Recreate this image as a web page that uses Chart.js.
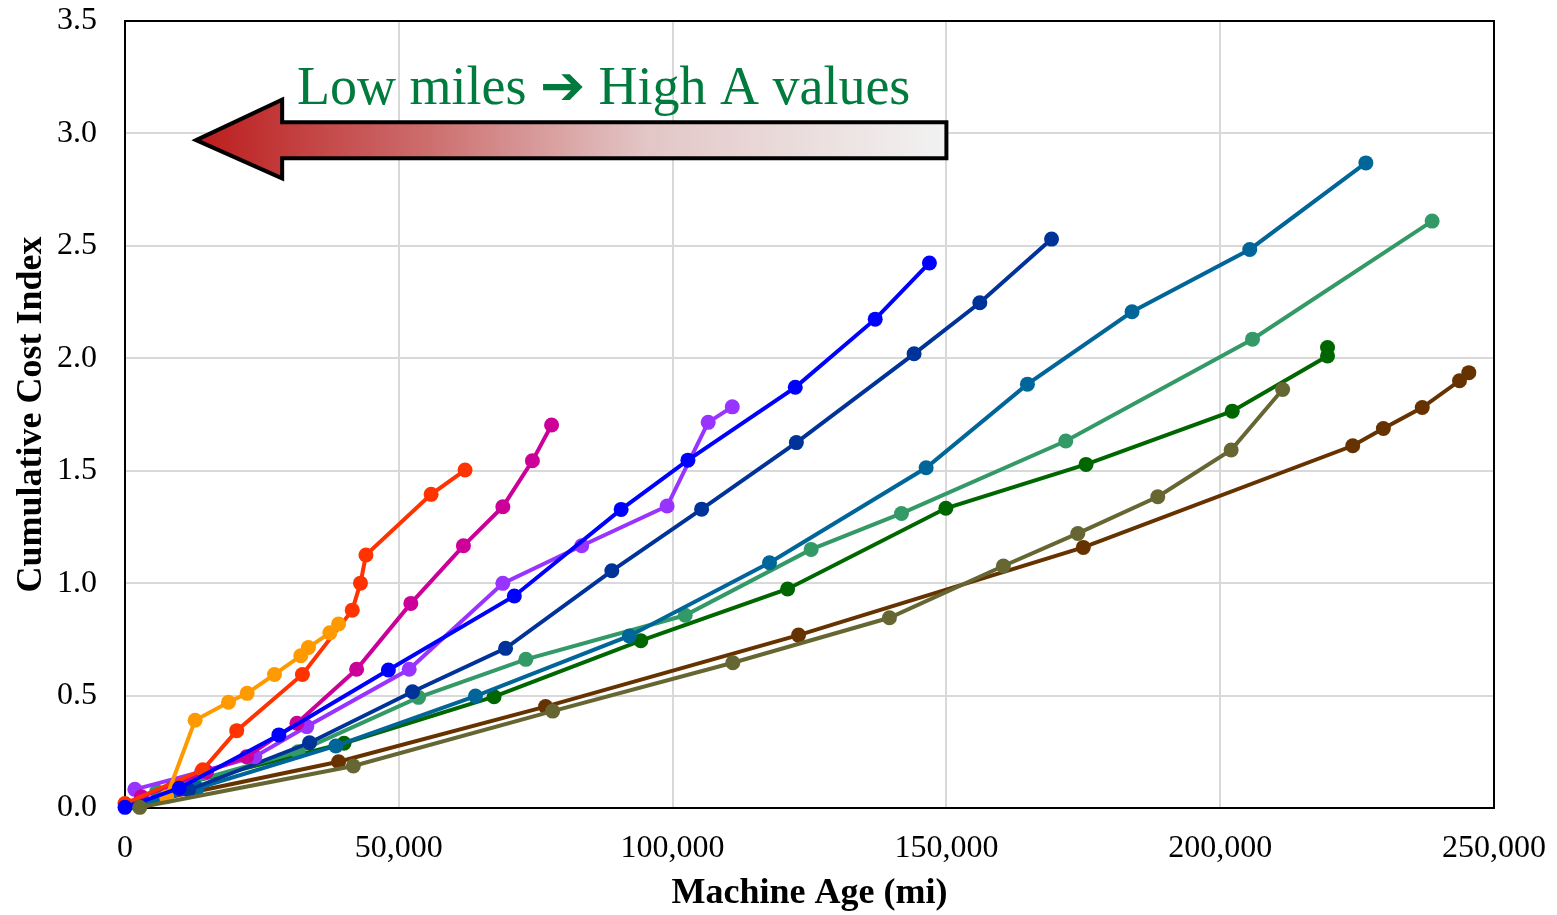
<!DOCTYPE html>
<html>
<head>
<meta charset="utf-8">
<script src="https://cdn.jsdelivr.net/npm/chart.js@4"></script>
<style>
  body { margin: 0; background: #fff; }
  #box { width: 1557px; height: 915px; }
</style>
</head>
<body>
<div id="box"><canvas id="costChart" width="1557" height="915"></canvas></div>
<script>
// series data (miles, cumulative cost index)
const oliveMiles = [2700, 41700, 78100, 111000, 139600, 160400, 174000, 188600, 202000, 211400];
const oliveCost = [0.003, 0.187, 0.431, 0.646, 0.846, 1.076, 1.221, 1.384, 1.592, 1.861];

const blueMiles = [0, 9900, 28100, 48100, 71100, 90600, 102800, 122400, 137000, 146900];
const blueCost = [0.003, 0.088, 0.325, 0.614, 0.943, 1.328, 1.547, 1.871, 2.174, 2.424];

const orangeMiles = [7600, 12800, 18900, 22300, 27300, 32100, 33500, 37400, 39000];
const orangeCost = [0.05, 0.39, 0.47, 0.51, 0.594, 0.677, 0.714, 0.779, 0.818];

const redMiles = [0, 14200, 20400, 32400, 41500, 43000, 44000, 55900, 62100];
const redCost = [0.02, 0.17, 0.344, 0.594, 0.88, 1.0, 1.125, 1.395, 1.503];

const magentaMiles = [3000, 14900, 22200, 31400, 42300, 52200, 61800, 69000, 74400, 77900];
const magentaCost = [0.05, 0.161, 0.228, 0.377, 0.617, 0.91, 1.166, 1.34, 1.544, 1.703];

const purpleMiles = [1800, 14000, 23700, 33200, 51900, 69000, 83400, 99000, 106500, 110900];
const purpleCost = [0.083, 0.161, 0.228, 0.362, 0.617, 0.999, 1.166, 1.343, 1.715, 1.784];

const navyMiles = [11600, 33700, 52500, 69500, 88900, 105300, 122600, 144100, 156100, 169200];
const navyCost = [0.08, 0.29, 0.517, 0.71, 1.055, 1.329, 1.625, 2.02, 2.247, 2.53];

const tealMiles = [2500, 13200, 38500, 64000, 92100, 117700, 146300, 164800, 183900, 205400, 226600];
const tealCost = [0.01, 0.088, 0.276, 0.498, 0.765, 1.091, 1.513, 1.885, 2.207, 2.484, 2.869];

const seaMiles = [5800, 31600, 53600, 73200, 102300, 125300, 141800, 171800, 205900, 238700];
const seaCost = [0.073, 0.25, 0.492, 0.661, 0.857, 1.15, 1.31, 1.632, 2.085, 2.61];

const greenMiles = [2500, 8800, 40000, 67400, 94200, 121000, 149900, 175500, 202200, 219600, 219600];
const greenCost = [0.01, 0.095, 0.288, 0.495, 0.744, 0.974, 1.333, 1.528, 1.765, 2.01, 2.048];

const brownMiles = [2500, 39000, 76800, 123000, 175000, 224200, 229800, 236900, 243700, 245400];
const brownCost = [0.02, 0.206, 0.451, 0.769, 1.159, 1.611, 1.688, 1.781, 1.90, 1.936];

const xTicks = [0, 50000, 100000, 150000, 200000, 250000];
const yTicks = [0, 0.5, 1.0, 1.5, 2.0, 2.5, 3.0, 3.5];

const arrowText = "Low miles \u2794 High A values";

function pts(xs, ys) {
  return xs.map(function (x, i) { return { x: x, y: ys[i] }; });
}

function line(xs, ys, color) {
  return {
    data: pts(xs, ys),
    showLine: true,
    borderColor: color,
    backgroundColor: color,
    borderWidth: 4,
    pointRadius: 7.5,
    pointBorderWidth: 0,
    clip: false
  };
}

const datasets = [
  line(oliveMiles, oliveCost, "#666633"),
  line(blueMiles, blueCost, "#0000FF"),
  line(orangeMiles, orangeCost, "#FF9900"),
  line(redMiles, redCost, "#FF3300"),
  line(magentaMiles, magentaCost, "#CC0099"),
  line(purpleMiles, purpleCost, "#9933FF"),
  line(navyMiles, navyCost, "#003399"),
  line(tealMiles, tealCost, "#006699"),
  line(seaMiles, seaCost, "#339966"),
  line(greenMiles, greenCost, "#006600"),
  line(brownMiles, brownCost, "#663300")
];

// top/right frame of the plot box
const frame = {
  id: "frame",
  beforeDatasetsDraw(chart) {
    const a = chart.chartArea, c = chart.ctx;
    c.save();
    c.strokeStyle = "#000";
    c.lineWidth = 2;
    c.beginPath();
    c.moveTo(a.left, a.top);
    c.lineTo(a.right, a.top);
    c.lineTo(a.right, a.bottom);
    c.stroke();
    c.restore();
  }
};

// the shaded arrow and its caption
const arrowNote = {
  id: "arrowNote",
  afterDatasetsDraw(chart) {
    const xs = chart.scales.x, ys = chart.scales.y, c = chart.ctx;
    const tipX = xs.getPixelForValue(13000);
    const neckX = xs.getPixelForValue(28700);
    const endX = xs.getPixelForValue(150000);
    const midY = ys.getPixelForValue(2.97);
    const bodyTop = ys.getPixelForValue(3.05);
    const bodyBot = ys.getPixelForValue(2.89);
    const headTop = ys.getPixelForValue(3.15);
    const headBot = ys.getPixelForValue(2.80);

    c.save();
    const g = c.createLinearGradient(tipX, 0, endX, 0);
    g.addColorStop(0, "#BC1C1C");
    g.addColorStop(0.3, "#CC6B6B");
    g.addColorStop(0.6, "#E3C6C6");
    g.addColorStop(1, "#F2F2F2");
    c.beginPath();
    c.moveTo(tipX, midY);
    c.lineTo(neckX, headTop);
    c.lineTo(neckX, bodyTop);
    c.lineTo(endX, bodyTop);
    c.lineTo(endX, bodyBot);
    c.lineTo(neckX, bodyBot);
    c.lineTo(neckX, headBot);
    c.closePath();
    c.fillStyle = g;
    c.fill();
    c.lineWidth = 4;
    c.lineJoin = "miter";
    c.strokeStyle = "#000";
    c.stroke();

    c.fillStyle = "#007A3D";
    c.font = '54px "Liberation Serif", "DejaVu Serif", serif';
    c.textAlign = "left";
    c.textBaseline = "alphabetic";
    c.fillText(arrowText, xs.getPixelForValue(31400), ys.getPixelForValue(3.13));
    c.restore();
  }
};

Chart.defaults.font.family = '"Liberation Serif", "Times New Roman", serif';
Chart.defaults.color = "#000";

new Chart(document.getElementById("costChart"), {
  type: "scatter",
  data: { datasets: datasets },
  plugins: [frame, arrowNote],
  options: {
    responsive: false,
    devicePixelRatio: 1,
    animation: false,
    layout: { padding: { left: 0, right: 63, top: 21, bottom: 0 } },
    plugins: { legend: { display: false }, tooltip: { enabled: false } },
    scales: {
      x: {
        type: "linear",
        min: 0,
        max: 250000,
        afterBuildTicks(s) { s.ticks = xTicks.map(function (v) { return { value: v }; }); },
        afterFit(s) { s.height = 107; s.paddingLeft = 0; s.paddingRight = 0; },
        grid: { color: "#D9D9D9", lineWidth: 2, drawTicks: false },
        border: { color: "#000", width: 2 },
        ticks: {
          padding: 21,
          maxRotation: 0,
          font: { size: 32 },
          callback: function (v) { return v.toLocaleString("en-US"); }
        },
        title: {
          display: true,
          text: "Machine Age (mi)",
          font: { size: 36, weight: "bold", lineHeight: 1.1 },
          padding: { top: 0, bottom: 1 }
        }
      },
      y: {
        min: 0,
        max: 3.5,
        afterBuildTicks(s) { s.ticks = yTicks.map(function (v) { return { value: v }; }); },
        afterFit(s) { s.width = 125; s.paddingTop = 0; s.paddingBottom = 0; },
        grid: { color: "#D9D9D9", lineWidth: 2, drawTicks: false },
        border: { color: "#000", width: 2 },
        ticks: {
          padding: 28,
          font: { size: 32 },
          callback: function (v) { return v.toFixed(1); }
        },
        title: {
          display: true,
          text: "Cumulative Cost Index",
          font: { size: 36, weight: "bold" },
          padding: { top: 10, bottom: 0 }
        }
      }
    }
  }
});
</script>
</body>
</html>
